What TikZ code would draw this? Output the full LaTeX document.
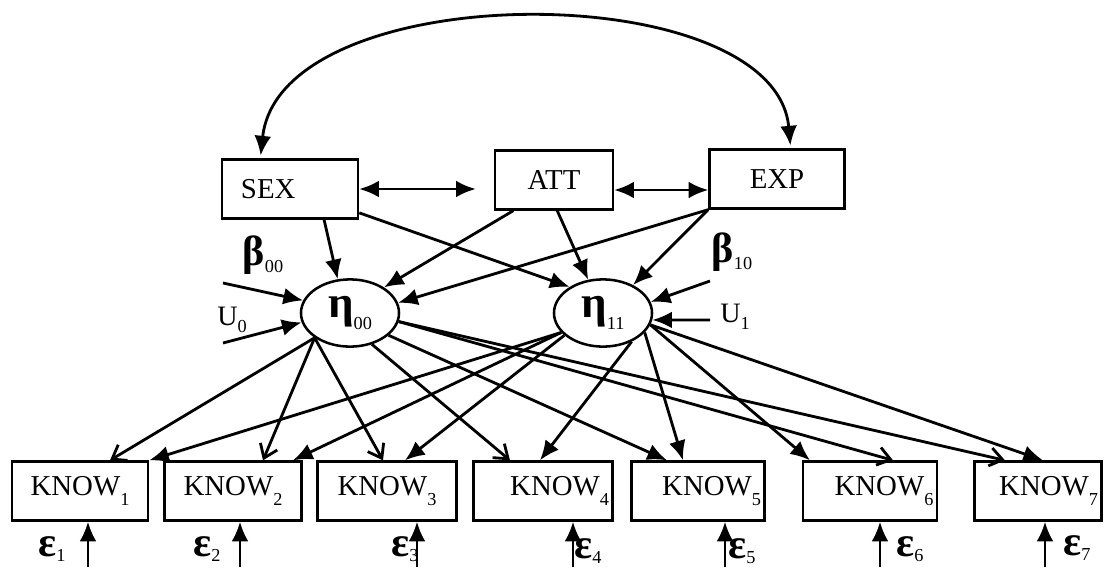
\documentclass[tikz,border=0pt]{standalone}
\usepackage{fontspec}
\setmainfont{Liberation Serif}
\usetikzlibrary{arrows.meta, shapes.geometric}

\newcommand{\lowsub}[2][-7pt]{\raisebox{#1}{\fontsize{13}{13}\selectfont #2}}

\tikzset{
  obsbox/.style={draw, line width=1.8pt, inner sep=0pt, minimum height=1.47cm, font=\fontsize{20.5}{22}\selectfont},
  rightbox/.style={align=right, inner xsep=0.09cm},
  latent/.style={draw, ellipse, line width=1.8pt, inner sep=0pt, minimum width=2.45cm, minimum height=1.68cm, font=\fontsize{32}{34}\selectfont\bfseries},
  greek/.style={inner sep=0pt, font=\fontsize{30}{32}\selectfont\bfseries},
  ulabel/.style={inner sep=0pt, font=\fontsize{20}{22}\selectfont},
  arr/.style={line width=2pt, -{Latex[length=14pt,width=12pt]}},
  openarr/.style={line width=2pt, -{Straight Barb[length=9pt,width=13pt]}},
  dblarr/.style={line width=2pt, {Latex[length=14pt,width=12pt]}-{Latex[length=14pt,width=12pt]}},
}

\begin{document}
\begin{tikzpicture}[x=0.025cm, y=-0.025cm]
  \useasboundingbox (0,0) rectangle (1106,567);

  % exogenous variables
  \node[obsbox, align=left, text width=2.45cm, inner xsep=0.475cm] (sex) at (290,189) {SEX};
  \node[obsbox, minimum width=2.95cm] (att) at (554,180) {ATT};
  \node[obsbox, minimum width=3.375cm] (exp) at (777,179) {EXP};

  % latent
  \node[latent] (eta0) at (350,313) {η\lowsub[-8pt]{\mdseries 00}};
  \node[latent] (eta1) at (603,313) {η\lowsub[-8pt]{\mdseries 11}};

  % knowledge items
  \node[obsbox, minimum width=3.4cm] (know1) at (80,491) {KNOW\lowsub{1}};
  \node[obsbox, minimum width=3.43cm] (know2) at (233,491) {KNOW\lowsub{2}};
  \node[obsbox, minimum width=3.48cm] (know3) at (387,491) {KNOW\lowsub{3}};
  \node[obsbox, rightbox, text width=3.3cm] (know4) at (543,491) {KNOW\lowsub{4}};
  \node[obsbox, rightbox, text width=3.15cm] (know5) at (698,491) {KNOW\lowsub{5}};
  \node[obsbox, rightbox, text width=3.17cm] (know6) at (870,491) {KNOW\lowsub{6}};
  \node[obsbox, rightbox, text width=3.0cm] (know7) at (1038,491) {KNOW\lowsub{7}};

  % labels
  \node[greek] (b0) at (263,255) {β\lowsub[-5pt]{\mdseries 00}};
  \node[greek] (b1) at (732,252) {β\lowsub[-5pt]{\mdseries 10}};
  \node[ulabel] (u0) at (232,320) {U\lowsub[-5pt]{0}};
  \node[ulabel] (u1) at (735,317) {U\lowsub[-5pt]{1}};

  \coordinate (u0a) at (223,283);
  \coordinate (u0b) at (223,343);
  \coordinate (u1a) at (710,281);
  \coordinate (u1b) at (710,320);

  % correlations
  \draw[dblarr, shorten >=2pt, shorten <=2pt] (sex.134) .. controls (280,-25) and (775,-25) .. (exp.66);
  \draw[dblarr, shorten >=0.45cm] (sex.east) -- (sex.east -| att.west);
  \coordinate (ae) at ([yshift=-0.25cm]att.east);
  \draw[dblarr] (ae) -- (ae -| exp.west);

  % paths to the latents
  \draw[arr] (sex.-42) -- (eta0.110);
  \draw[arr] (sex.-19) -- (eta1.142);
  \draw[arr] (att.-143) -- (eta0.37);
  \draw[arr] (att.-84) -- (eta1.114);
  \draw[arr] (exp.south west) -- (eta0.12);
  \draw[arr] (exp.south west) -- (eta1.43);

  \draw[arr] (u0a) -- (eta0.165);
  \draw[arr] (u0b) -- (eta0.-169);
  \draw[arr] (u1a) -- (eta1.13);
  \draw[arr] (u1b) -- (eta1.-8);

  % loadings
  \draw[openarr] (eta0.-145) -- ([xshift=0.75cm]know1.north);
  \draw[openarr] (eta0.-145) -- ([xshift=0.75cm]know2.north);
  \draw[openarr] (eta0.-145) -- ([xshift=-0.1cm]know3.north);
  \draw[openarr] (eta0.-55) -- ([xshift=-0.825cm]know4.north);
  \draw[arr] (eta0.-30) -- ([xshift=-0.775cm]know5.north);
  \draw[openarr] (eta0.-10) -- ([xshift=0.575cm]know6.north);
  \draw[openarr] (eta0.-10) -- ([xshift=-0.825cm]know7.north);

  \draw[arr] (eta1.-155) -- (know1.north east);
  \draw[arr] (eta1.-155) -- ([xshift=1.5cm]know2.north);
  \draw[arr] (eta1.-150) -- ([xshift=0.45cm]know3.north);
  \draw[arr] (eta1.-45) -- ([xshift=-0.075cm]know4.north);
  \draw[arr] (eta1.-25) -- ([xshift=-0.375cm]know5.north);
  \draw[arr] (eta1.-14) -- ([xshift=-1.5cm]know6.north);
  \draw[arr] (eta1.-14) -- ([xshift=0.125cm]know7.north);

  % errors
  \coordinate (e1) at (88,567);
  \coordinate (e2) at (240,567);
  \coordinate (e3) at (417,567);
  \coordinate (e4) at (573,567);
  \coordinate (e5) at (725,567);
  \coordinate (e6) at (880,567);
  \coordinate (e7) at (1045,567);
  \foreach \i in {1,...,7}
    \draw[arr] (e\i) -- (e\i |- know\i.south);

  \node[greek] (eps1) at (52,549) {ε\lowsub[-4pt]{\mdseries 1}};
  \node[greek] (eps2) at (207,549) {ε\lowsub[-4pt]{\mdseries 2}};
  \node[greek] (eps3) at (405,549) {ε\lowsub[-4pt]{\mdseries 3}};
  \node[greek] (eps4) at (588,551) {ε\lowsub[-4pt]{\mdseries 4}};
  \node[greek] (eps5) at (742,551) {ε\lowsub[-4pt]{\mdseries 5}};
  \node[greek] (eps6) at (910,549) {ε\lowsub[-4pt]{\mdseries 6}};
  \node[greek] (eps7) at (1077,548) {ε\lowsub[-4pt]{\mdseries 7}};
\end{tikzpicture}
\end{document}
